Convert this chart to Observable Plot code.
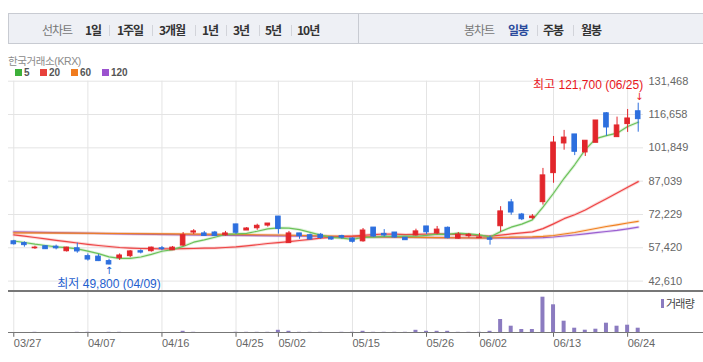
<!DOCTYPE html>
<html><head><meta charset="utf-8">
<script src="https://cdn.jsdelivr.net/npm/d3@7"></script>
<script src="https://cdn.jsdelivr.net/npm/@observablehq/plot@0.6"></script>
<style>
body{margin:0;background:#fff;font-family:"Noto Sans CJK KR","Liberation Sans",sans-serif;}
#root{position:relative;width:703px;height:362px;overflow:hidden;background:#fff;}
.abs{position:absolute;white-space:nowrap;line-height:14px;}
.box{position:absolute;left:8px;top:13px;width:700px;height:31px;box-sizing:border-box;background:#eef0f5;border:1px solid #c8cbd2;}
.div{position:absolute;left:358px;top:13px;width:1px;height:31px;background:#c8cbd2;}
.tab{font-size:12px;font-weight:bold;color:#333;letter-spacing:-1px;top:23px;}
.lab{font-size:12px;color:#777;letter-spacing:-1px;top:23px;}
.sep{position:absolute;top:25px;width:1px;height:11px;background:#d2d4da;}
.hline{position:absolute;left:8px;width:695px;background:#777;}
#main{position:absolute;left:0;top:72px;}
#vol{position:absolute;left:0;top:292px;}
</style></head>
<body><div id="root"></div>
<script>
// ---- data ----
const dates = ["03/27","03/28","03/31","04/01","04/02","04/03","04/04","04/07","04/08","04/09","04/10","04/11","04/14","04/15","04/16","04/17","04/18","04/21","04/22","04/23","04/24","04/25","04/28","04/29","04/30","05/02","05/07","05/08","05/09","05/12","05/13","05/14","05/15","05/16","05/19","05/20","05/21","05/22","05/23","05/26","05/27","05/28","05/29","05/30","06/02","06/04","06/05","06/09","06/10","06/11","06/12","06/13","06/16","06/17","06/18","06/19","06/20","06/23","06/24","06/25"];
const open  = [60300,59500,57200,58100,57900,55900,57200,53700,53500,51500,52800,53700,55900,55900,57200,56300,58400,64200,63800,64200,63000,67800,65100,66100,67300,71300,59500,63800,63000,63200,62000,62600,61500,60300,66400,63600,64200,61900,62900,66900,63800,66300,61500,62600,61700,61600,67000,77600,72200,70600,77700,90600,103800,107800,99800,104100,117200,106600,112400,118100];
const high  = [60700,60100,58100,58200,58600,57700,59500,54700,54400,52300,54700,56200,56500,57700,58000,58000,64200,65500,64700,64700,64700,67900,66400,67900,68200,71300,64700,63800,63500,63800,62300,63000,61900,66000,66400,65500,64200,61900,65700,66900,66900,66700,64200,63800,63800,62700,75700,78900,72700,72200,92700,106900,109600,107800,105000,114000,117500,115500,118900,121700];
const low   = [58600,57700,56700,56700,56500,55500,55000,51500,51300,49800,51800,53000,54700,55500,56100,56200,58000,63300,62600,62400,62600,63300,65100,65200,66600,63500,59500,61200,60800,61100,60800,61200,59500,59900,62000,62100,61700,60800,62600,63300,63200,61400,61200,61700,61500,58600,64400,71900,69500,69900,76400,86100,100800,98400,98000,104100,107000,106600,108700,108800];
const close = [59000,58600,57500,56800,57200,57500,55800,52200,51500,50000,54000,55800,55300,57500,56800,57500,63000,64700,62700,62700,63800,64100,66000,67200,68200,65800,63800,62600,61100,61800,61100,61900,60100,65100,62400,62900,62000,60800,64700,64300,65500,61700,63300,63200,62000,61000,73600,73100,70100,71300,89600,104200,106400,100100,105000,114000,110900,111800,114900,114600];
const volume = [2000,2000,10000,2000,2000,2000,10000,10000,2000,10000,10000,2000,2000,2000,2000,2000,20000,10000,2000,2000,2000,10000,10000,10000,10000,30000,20000,10000,10000,10000,2000,10000,10000,20000,10000,10000,10000,10000,30000,20000,20000,20000,10000,10000,10000,20000,138000,71000,38000,38000,361000,285000,121000,51000,31000,41000,101000,71000,81000,51000];
const ma5   = [60440,59770,59010,58440,57820,57520,56960,55900,54840,53400,52700,52700,53320,54520,55880,56580,58020,59900,60940,62120,63380,63600,63860,64760,65860,66260,66200,65520,64300,63020,62080,61700,61200,62000,62120,62480,62500,62640,62560,62940,63460,63400,63900,63600,63140,62240,64620,66580,67960,69820,75540,81660,88320,94320,101060,105940,107280,108360,111320,113240];
const ma20  = [63190,62620,61990,61370,60750,60130,59550,58970,58440,57990,57550,57280,57100,57010,56970,56970,57010,57100,57240,57310,57550,57820,58250,58770,59320,59730,60130,60650,61130,61720,62080,62380,62620,63000,63280,63550,63500,63310,63410,63490,63570,63450,63320,63120,62810,62570,63060,63580,64030,64510,65930,68050,70360,72110,74240,76800,79240,81790,84300,86820];
const ma60Dates  = ["03/27","04/03","04/10","04/17","04/24","05/02","05/13","05/20","05/27","06/02","06/04","06/05","06/09","06/10","06/11","06/12","06/13","06/16","06/17","06/18","06/19","06/20","06/23","06/24","06/25"];
const ma60       = [64080,63950,63770,63590,63370,63100,62660,62220,61900,61770,61770,61990,62130,62220,62300,62530,62880,63550,64220,65100,65990,66880,67640,68440,69200];
const ma120Dates = ["03/27","04/03","04/10","04/17","04/24","05/02","05/13","05/20","05/27","06/04","06/10","06/12","06/13","06/16","06/17","06/18","06/19","06/20","06/23","06/24","06/25"];
const ma120      = [64530,64080,63640,63240,62970,62750,62440,62170,61950,61770,61730,61900,62220,62660,63100,63640,64130,64660,65190,65860,66570];
const yTicks = [42610,57420,72229,87039,101849,116658,131468];
const xTicks = ["03/27","04/07","04/16","04/25","05/02","05/15","05/26","06/02","06/13","06/24"];
const lineTabs = ["1일","1주일","3개월","1년","3년","5년","10년"];
const candleTabs = ["일봉","주봉","월봉"];
const maLegend = [{k:"5",c:"#3db03a"},{k:"20",c:"#e8413b"},{k:"60",c:"#f07b1e"},{k:"120",c:"#9b52cf"}];
const highMark = {date:"06/25", v:121700, label:"최고"};
const lowMark  = {date:"04/09", v:49800, label:"최저"};

// ---- header (HTML) ----
const root = document.getElementById("root");
function el(tag, cls, style, text){const e=document.createElement(tag); if(cls)e.className=cls; if(style)e.style.cssText=style; if(text!=null)e.textContent=text; root.appendChild(e); return e;}
el("div","box");
el("div","div");
el("div","abs lab","left:42px;","선차트");
const lineLefts=[85,117,159,202,233,265,297], lineSeps=[109,152,195,226,259,291];
lineTabs.forEach((t,i)=>el("div","abs tab",`left:${lineLefts[i]}px;`,t));
lineSeps.forEach(x=>el("div","sep",`left:${x}px;`));
el("div","abs lab","left:464px;","봉차트");
const cLefts=[508,543,581], cSeps=[537,573];
candleTabs.forEach((t,i)=>el("div","abs tab",`left:${cLefts[i]}px;${i===0?"color:#2a4a9c;":""}`,t));
cSeps.forEach(x=>el("div","sep",`left:${x}px;`));
el("div","abs","left:8px;top:55.5px;line-height:11px;font-size:10.5px;color:#8a8a8a;letter-spacing:-0.4px;font-family:'Liberation Sans','Noto Sans CJK KR',sans-serif;","한국거래소(KRX)");
const legLefts=[15,40,71,102];
maLegend.forEach((m,i)=>{
  el("div","",`position:absolute;left:${legLefts[i]}px;top:68.5px;width:7px;height:7px;background:${m.c};`);
  el("div","abs",`left:${legLefts[i]+9}px;top:67.5px;line-height:10px;font-size:10px;font-weight:bold;color:#555;font-family:'Liberation Sans',sans-serif;`,m.k);
});

// ---- main price chart ----
const RED="#e2262b", BLUE="#2d6fde";
const candles = dates.map((d,i)=>({date:d,open:open[i],high:high[i],low:low[i],close:close[i]}));
const col = d => d.close >= d.open ? RED : BLUE;
const ser = (ds, vs) => ds.map((d,i)=>({date:d, v:vs[i]}));
const maLine = (data, color) => [
  Plot.line(data,{x:"date",y:"v",stroke:color,strokeWidth:3,strokeOpacity:0.22}),
  Plot.line(data,{x:"date",y:"v",stroke:color,strokeWidth:1.2})
];
const fmt = d3.format(",");
const annFont = "'Liberation Sans','Noto Sans CJK KR',sans-serif";
const main = Plot.plot({
  width:703, height:219, marginLeft:8, marginRight:60, marginTop:8.7, marginBottom:0,
  x:{type:"band", domain:dates, padding:0, axis:null},
  y:{domain:[37990,131468], axis:null},
  color:{type:"identity"},
  style:{fontFamily:"'Liberation Sans','Noto Sans CJK KR',sans-serif", overflow:"visible", background:"transparent"},
  marks:[
    Plot.gridY(yTicks,{stroke:"#e4e4e4",strokeOpacity:1}),
    Plot.gridX(xTicks,{stroke:"#e4e4e4",strokeOpacity:1}),
    Plot.axisY(yTicks,{anchor:"right",tickSize:0,tickPadding:5,tickFormat:fmt,fontSize:11,color:"#666",label:null}),
    ...maLine(ser(ma120Dates,ma120),"#9b5fd0"),
    ...maLine(ser(ma60Dates,ma60),"#f08020"),
    ...maLine(ser(dates,ma20),"#ee4545"),
    ...maLine(ser(dates,ma5),"#6cc25a"),
    Plot.ruleX(candles,{x:"date",y1:"low",y2:"high",stroke:col,strokeWidth:1}),
    Plot.barY(candles,{x:"date",y1:"open",y2:"close",fill:col,stroke:col,strokeWidth:1,insetLeft:3,insetRight:3}),
    Plot.text([highMark],{x:"date",y:"v",text:d=>`${d.label} ${fmt(d.v)} (${d.date})`,textAnchor:"end",dx:5,dy:-18.5,fill:"#e8151c",fontSize:12,fontFamily:annFont}),
    Plot.text([highMark],{x:"date",y:"v",text:()=>"↓",dx:1,dy:-6,fill:"#e8151c",fontSize:10,fontFamily:"'DejaVu Sans',sans-serif"}),
    Plot.text([lowMark],{x:"date",y:"v",text:d=>`${d.label} ${fmt(d.v)} (${d.date})`,dy:19,fill:"#1f5fcf",fontSize:12,fontFamily:annFont}),
    Plot.text([lowMark],{x:"date",y:"v",text:()=>"↑",dy:6,fill:"#1f5fcf",fontSize:10,fontFamily:"'DejaVu Sans',sans-serif"})
  ]
});
main.id="main"; root.appendChild(main);

// ---- volume chart ----
const vol = Plot.plot({
  width:703, height:70, marginLeft:8, marginRight:60, marginTop:0, marginBottom:29.2,
  x:{type:"band", domain:dates, padding:0, axis:null},
  y:{domain:[0,408000], axis:null},
  style:{fontFamily:"'Liberation Sans',sans-serif", overflow:"visible", background:"transparent"},
  marks:[
    Plot.gridX(xTicks,{stroke:"#e4e4e4",strokeOpacity:1}),
    Plot.barY(ser(dates,volume),{x:"date",y:"v",fill:"#8b7bc0",insetLeft:3.3,insetRight:3.3}),
    Plot.axisX(xTicks,{tickSize:4,tickPadding:2,textAnchor:"start",fontSize:11,color:"#666",label:null})
  ]
});
vol.id="vol"; root.appendChild(vol);

// panel border lines and volume legend
el("div","hline","top:290px;height:1.5px;");
el("div","hline","top:332px;height:1.2px;");
el("div","","position:absolute;left:661px;top:299px;width:3px;height:9px;background:#8b7bc0;");
el("div","abs","left:666px;top:296px;font-size:11px;color:#444;letter-spacing:-0.8px;","거래량");
</script>
</body></html>
